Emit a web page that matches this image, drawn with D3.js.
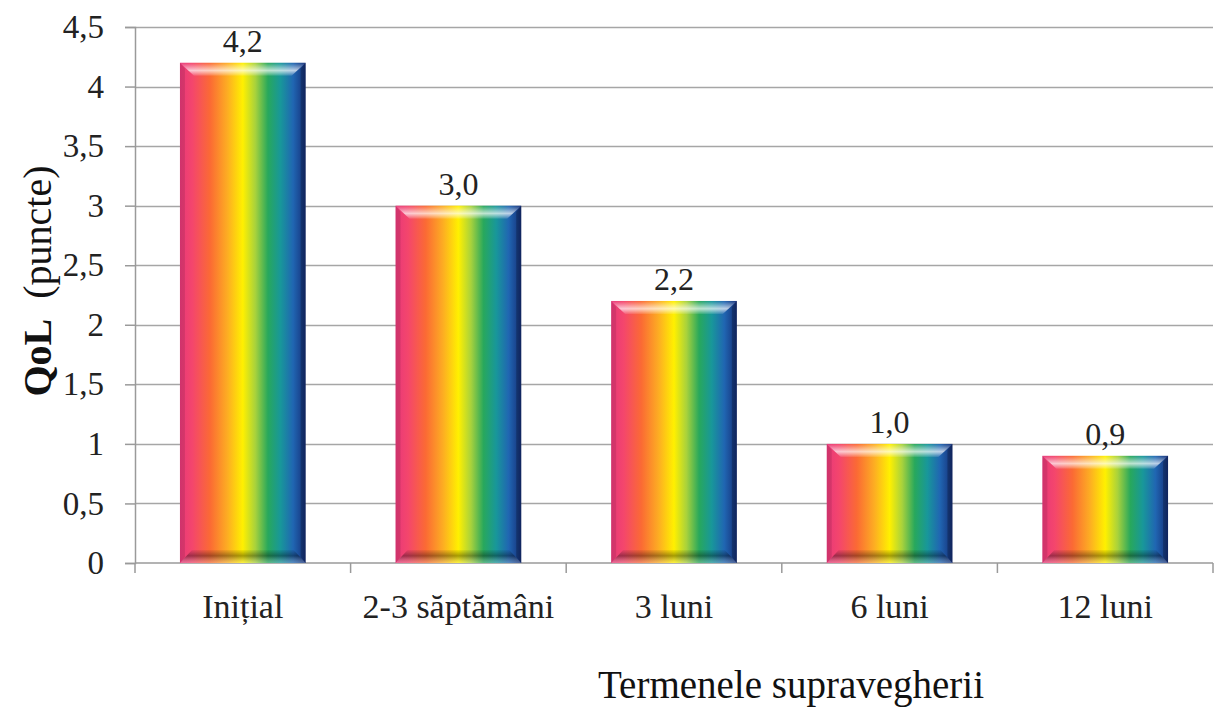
<!DOCTYPE html>
<html>
<head>
<meta charset="utf-8">
<script src="https://cdn.jsdelivr.net/npm/d3@7"></script>
<style>
  html, body { margin: 0; padding: 0; background: #fff; }
  svg { display: block; }
</style>
</head>
<body>
<svg id="chart" width="1222" height="708"></svg>
<script>
// QoL score per follow-up term
const categories = ["Inițial", "2-3 săptămâni", "3 luni", "6 luni", "12 luni"];
const values = [4.2, 3.0, 2.2, 1.0, 0.9];
const valueLabels = ["4,2", "3,0", "2,2", "1,0", "0,9"];
const yTicks = [0, 0.5, 1, 1.5, 2, 2.5, 3, 3.5, 4, 4.5];
const yTickLabels = ["0", "0,5", "1", "1,5", "2", "2,5", "3", "3,5", "4", "4,5"];

const SERIF = "'Liberation Serif', 'Times New Roman', Times, serif";

const svg = d3.select("#chart");
const margin = { left: 135, right: 9, top: 27, bottom: 145 };
const W = 1222, H = 708;

const x = d3.scaleBand()
  .domain(categories)
  .range([margin.left, W - margin.right])
  .paddingInner(0.417)
  .paddingOuter(0.2085);

const y = d3.scaleLinear()
  .domain([0, 4.5])
  .range([H - margin.bottom, margin.top]);

// Rainbow fill for the bars
const defs = svg.append("defs");
const rainbow = defs.append("linearGradient")
  .attr("id", "rainbow").attr("x1", 0).attr("x2", 1).attr("y1", 0).attr("y2", 0);
[
  [0.00, "#e8387a"], [0.10, "#f4466c"], [0.24, "#fb6a34"], [0.38, "#fdae22"],
  [0.50, "#fff000"], [0.60, "#a8d23c"], [0.70, "#28a85c"], [0.80, "#18979a"],
  [0.90, "#2066b2"], [1.00, "#162f78"]
].forEach(([o, c]) => rainbow.append("stop").attr("offset", o).attr("stop-color", c));

const hiGrad = defs.append("linearGradient")
  .attr("id", "hi").attr("x1", 0).attr("x2", 0).attr("y1", 0).attr("y2", 1);
hiGrad.append("stop").attr("offset", 0).attr("stop-color", "#fff").attr("stop-opacity", 0.0);
hiGrad.append("stop").attr("offset", 0.6).attr("stop-color", "#fff").attr("stop-opacity", 0.7);
hiGrad.append("stop").attr("offset", 1).attr("stop-color", "#fff").attr("stop-opacity", 0.1);

const loGrad = defs.append("linearGradient")
  .attr("id", "lo").attr("x1", 0).attr("x2", 0).attr("y1", 0).attr("y2", 1);
loGrad.append("stop").attr("offset", 0).attr("stop-color", "#000").attr("stop-opacity", 0.05);
loGrad.append("stop").attr("offset", 0.45).attr("stop-color", "#000").attr("stop-opacity", 0.35);
loGrad.append("stop").attr("offset", 1).attr("stop-color", "#fff").attr("stop-opacity", 0.25);

// Gridlines
svg.append("g")
  .selectAll("line")
  .data(yTicks.filter(d => d > 0))
  .join("line")
  .attr("x1", margin.left).attr("x2", W - margin.right)
  .attr("y1", d => Math.round(y(d)) + 0.5).attr("y2", d => Math.round(y(d)) + 0.5)
  .attr("stroke", "#a6a6a6").attr("stroke-width", 1.5);

// Y axis
const yAxis = d3.axisLeft(y)
  .tickValues(yTicks)
  .tickFormat((d, i) => yTickLabels[i])
  .tickSize(10)
  .tickPadding(21);
const gy = svg.append("g")
  .attr("transform", `translate(${margin.left},0)`)
  .call(yAxis)
  .attr("font-family", SERIF)
  .attr("font-size", 33);
gy.select(".domain").attr("stroke", "#9a9a9a").attr("stroke-width", 1.5);
gy.selectAll(".tick line").attr("stroke", "#9a9a9a").attr("stroke-width", 1.5);
gy.selectAll(".tick text").attr("fill", "#222");

// X axis with ticks at category boundaries
const gx = svg.append("g")
  .attr("transform", `translate(0,${y(0)})`)
  .attr("font-family", SERIF)
  .attr("font-size", 34);
gx.append("line")
  .attr("x1", margin.left).attr("x2", W - margin.right)
  .attr("y1", 0).attr("y2", 0)
  .attr("stroke", "#9a9a9a").attr("stroke-width", 1.5);
const bounds = d3.range(categories.length + 1).map(i => margin.left + i * (W - margin.left - margin.right) / categories.length);
gx.selectAll("line.tk")
  .data(bounds)
  .join("line").attr("class", "tk")
  .attr("x1", d => d).attr("x2", d => d)
  .attr("y1", 0).attr("y2", 10)
  .attr("stroke", "#9a9a9a").attr("stroke-width", 1.5);
gx.selectAll("text")
  .data(categories)
  .join("text")
  .attr("x", d => x(d) + x.bandwidth() / 2)
  .attr("y", 55)
  .attr("text-anchor", "middle")
  .attr("fill", "#222")
  .text(d => d);

// Bars with bevel overlays
const bars = svg.append("g")
  .attr("font-family", SERIF)
  .attr("font-size", 32)
  .selectAll("g")
  .data(categories.map((c, i) => ({ c, v: values[i], label: valueLabels[i] })))
  .join("g");

bars.append("rect")
  .attr("x", d => x(d.c))
  .attr("y", d => y(d.v))
  .attr("width", x.bandwidth())
  .attr("height", d => y(0) - y(d.v))
  .attr("fill", "url(#rainbow)");

// top highlight bevel
bars.append("path")
  .attr("d", d => {
    const x0 = x(d.c), x1 = x0 + x.bandwidth(), t = y(d.v);
    return `M${x0},${t} L${x1},${t} L${x1 - 14},${t + 13} L${x0 + 14},${t + 13} Z`;
  })
  .attr("fill", "url(#hi)");

// bottom shadow bevel
bars.append("path")
  .attr("d", d => {
    const x0 = x(d.c), x1 = x0 + x.bandwidth(), b = y(0);
    return `M${x0},${b} L${x1},${b} L${x1 - 12},${b - 13} L${x0 + 12},${b - 13} Z`;
  })
  .attr("fill", "url(#lo)");

// side edges
bars.append("path")
  .attr("d", d => {
    const x0 = x(d.c), t = y(d.v), b = y(0);
    return `M${x0},${t} L${x0 + 5},${t + 6} L${x0 + 5},${b - 6} L${x0},${b} Z`;
  })
  .attr("fill", "#000").attr("fill-opacity", 0.1);
bars.append("path")
  .attr("d", d => {
    const x1 = x(d.c) + x.bandwidth(), t = y(d.v), b = y(0);
    return `M${x1},${t} L${x1 - 5},${t + 6} L${x1 - 5},${b - 6} L${x1},${b} Z`;
  })
  .attr("fill", "#000").attr("fill-opacity", 0.22);

// value labels
bars.append("text")
  .attr("x", d => x(d.c) + x.bandwidth() / 2)
  .attr("y", d => y(d.v) - 11)
  .attr("text-anchor", "middle")
  .attr("fill", "#222")
  .text(d => d.label);

// Axis titles
const yTitle = svg.append("text")
  .attr("transform", `translate(51,${(y(0) + y(4.5)) / 2 - 14}) rotate(-90)`)
  .attr("text-anchor", "middle")
  .attr("font-family", SERIF)
  .attr("font-size", 40)
  .attr("fill", "#111")
  .attr("xml:space", "preserve");
yTitle.append("tspan").attr("font-weight", "bold").text("QoL");
yTitle.append("tspan").text("  (puncte)");

svg.append("text")
  .attr("x", 791)
  .attr("y", 698)
  .attr("text-anchor", "middle")
  .attr("font-family", SERIF)
  .attr("font-size", 39)
  .attr("fill", "#111")
  .text("Termenele supravegherii");
</script>
</body>
</html>
